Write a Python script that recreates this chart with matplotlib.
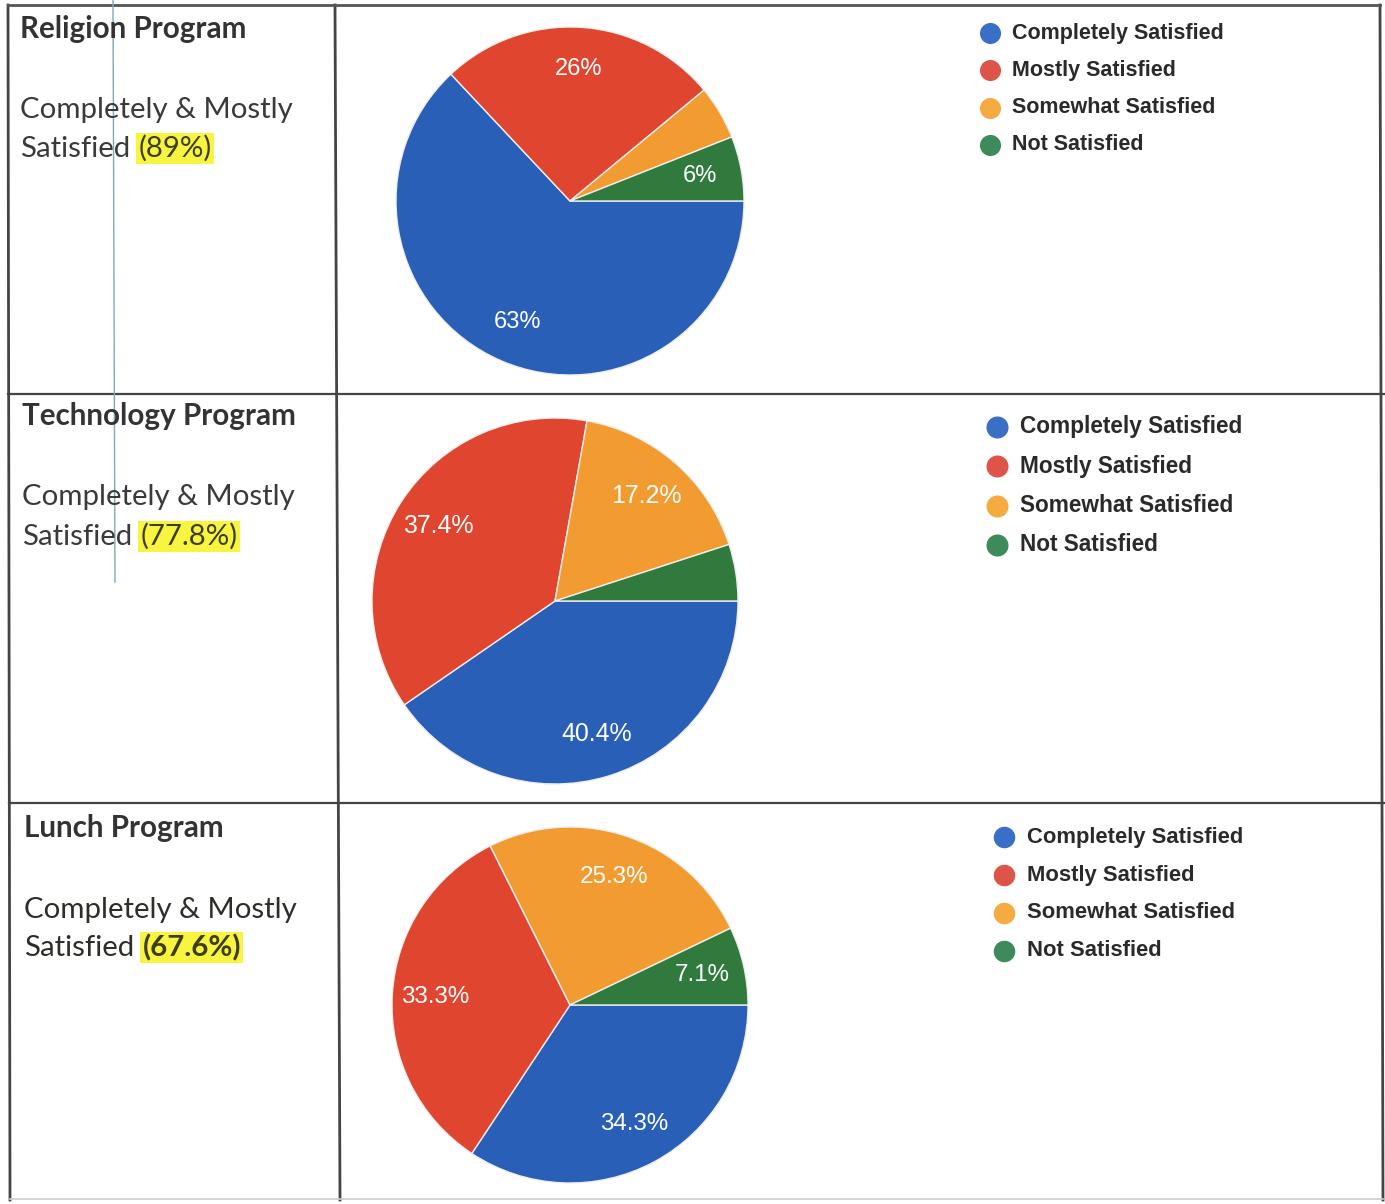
import matplotlib
matplotlib.use('Agg')
import matplotlib.pyplot as plt

W, H = 1385, 1204

categories = ['Completely Satisfied', 'Mostly Satisfied', 'Somewhat Satisfied', 'Not Satisfied']
programs = ['Religion Program', 'Technology Program', 'Lunch Program']
religion = [63, 26, 5, 6]
technology = [40.4, 37.4, 17.2, 5.0]
lunch = [34.3, 33.3, 25.3, 7.1]
label_texts = [['63%', '26%', '', '6%'],
               ['40.4%', '37.4%', '17.2%', ''],
               ['34.3%', '33.3%', '25.3%', '7.1%']]
combined = ['(89%)', '(77.8%)', '(67.6%)']

pie_colors = ['#2a5fb8', '#e0452f', '#f29b30', '#2f7a3c']
dot_colors = ['#3a6fc8', '#dc5548', '#f5aa42', '#3f8a5a']

# layout in pixels (x, y from top)
pie_geo = [(570, 201, 174), (555, 601, 183), (570, 1005, 178)]
legend_geo = [(990, 33, 37.3), (997, 427, 39.3), (1004, 837, 38.0)]
left_geo = [(20, 38, 118, 157), (22, 425, 505, 545), (24, 837, 918, 956)]

fig = plt.figure(figsize=(W / 100, H / 100), dpi=100)
bg = fig.add_axes([0, 0, 1, 1])
bg.set_xlim(0, W)
bg.set_ylim(H, 0)
bg.axis('off')

# table grid (scan is slightly skewed)
lc = '#444444'
bg.plot([8, 10], [5, 1200], color=lc, lw=2)
bg.plot([335, 340], [5, 1200], color=lc, lw=2)
bg.plot([1380, 1383], [5, 1200], color=lc, lw=2)
bg.plot([8, 1380], [5, 5], color='#555555', lw=2)
bg.plot([8, 1385], [394, 394], color=lc, lw=1.6)
bg.plot([9, 1385], [803, 803], color=lc, lw=1.6)
bg.plot([10, 1383], [1199, 1199], color='#cccccc', lw=1.2)
# stray cursor line from the scan
bg.plot([113, 115], [0, 582], color='#7fa8b8', lw=1)

all_vals = [religion, technology, lunch]
for i, vals in enumerate(all_vals):
    cx, cy, r = pie_geo[i]
    s = r / 174.0
    m = 1.03
    ax = fig.add_axes([(cx - m * r) / W, 1 - (cy + m * r) / H, 2 * m * r / W, 2 * m * r / H])
    ax.pie(vals, colors=pie_colors, startangle=0, counterclock=False,
           labels=label_texts[i], labeldistance=0.76,
           wedgeprops=dict(edgecolor='#eeeeee', linewidth=1.0),
           textprops=dict(color='white', fontsize=17 * s, family='Liberation Sans',
                          ha='center', va='center'))
    ax.set_xlim(-m, m)
    ax.set_ylim(-m, m)

    # legend
    lx, ly, dy = legend_geo[i]
    for j, cat in enumerate(categories):
        yy = ly + j * dy
        bg.scatter([lx], [yy], s=200 * s * s, color=dot_colors[j], zorder=3)
        bg.text(lx + 22 * s, yy, cat, fontsize=15.5 * s, family='Liberation Sans',
                fontweight='bold', color='#2a2a2a', ha='left', va='center')

    # left column text
    tx, y0, y1, y2 = left_geo[i]
    bg.text(tx, y0, programs[i], fontsize=21.3, family='Lato', fontweight='bold',
            color='#333333', va='baseline')
    tcol = '#2e2e28' if i == 2 else '#3a3a3a'
    bg.text(tx, y1, 'Completely & Mostly', fontsize=21.2, family='Lato',
            color=tcol, va='baseline')
    t2 = bg.text(tx, y2, 'Satisfied', fontsize=21.2, family='Lato',
                 color=tcol, va='baseline')
    bg.annotate(combined[i], xy=(1, 0), xycoords=t2, xytext=(6, 0),
                textcoords='offset points', fontsize=21.2, family='Lato',
                fontweight='bold' if i == 2 else 'normal',
                color='#3d3d18', va='bottom', ha='left',
                bbox=dict(boxstyle='square,pad=0.08', fc='#f8f540', ec='none'))

fig.savefig('out.png', dpi=100, facecolor='white')
